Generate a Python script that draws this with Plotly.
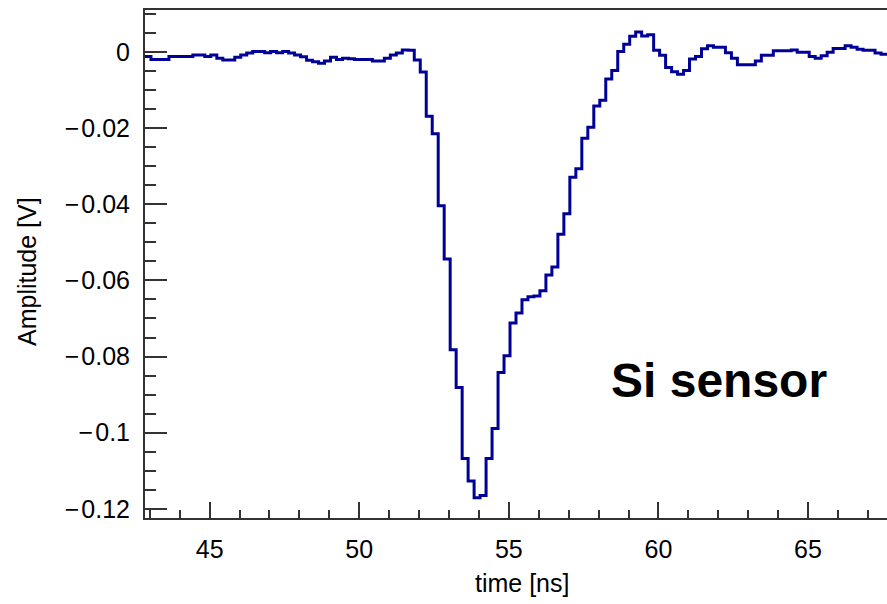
import plotly.graph_objects as go

# ---- data ----
t_start = 42.84      # first bin lower edge [ns]
bin_width = 0.2      # [ns]
amplitude = [
    -0.0012, -0.0020, -0.0020, -0.0020, -0.0012, -0.0012, -0.0012, -0.0012, -0.0008, -0.0008,
    -0.0012, -0.0008, -0.0017, -0.0021, -0.0021, -0.0014, -0.0008, -0.0003, 0.0001, 0.0001,
    -0.0002, 0.0001, -0.0002, 0.0001, -0.0003, -0.0008, -0.0013, -0.0022, -0.0026, -0.0030,
    -0.0024, -0.0014, -0.0020, -0.0017, -0.0018, -0.0020, -0.0020, -0.0020, -0.0024, -0.0024,
    -0.0017, -0.0008, -0.0003, 0.0005, 0.0004, -0.0021, -0.0053, -0.0169, -0.0215, -0.0404,
    -0.0544, -0.0782, -0.0881, -0.1068, -0.1127, -0.1171, -0.1165, -0.1068, -0.0989, -0.0842,
    -0.0798, -0.0712, -0.0686, -0.0651, -0.0643, -0.0641, -0.0627, -0.0586, -0.0565, -0.0479,
    -0.0425, -0.0329, -0.0307, -0.0227, -0.0198, -0.0142, -0.0127, -0.0071, -0.0049, 0.0001,
    0.0020, 0.0041, 0.0052, 0.0042, 0.0045, 0.0004, -0.0009, -0.0041, -0.0052, -0.0059,
    -0.0049, -0.0019, -0.0012, 0.0008, 0.0016, 0.0012, 0.0012, -0.0002, -0.0017, -0.0034,
    -0.0034, -0.0034, -0.0024, -0.0009, -0.0009, 0.0003, 0.0003, 0.0003, 0.0005, -0.0001,
    -0.0001, -0.0012, -0.0017, -0.0010, -0.0001, 0.0009, 0.0009, 0.0016, 0.0012, 0.0007,
    0.0004, 0.0004, -0.0003, -0.0006,
]
x_tickvals = [45, 50, 55, 60, 65]
x_ticktext = ["45", "50", "55", "60", "65"]
y_tickvals = [0, -0.02, -0.04, -0.06, -0.08, -0.1, -0.12]
y_ticktext = ["0", "\u2212\u200a0.02", "\u2212\u200a0.04", "\u2212\u200a0.06",
              "\u2212\u200a0.08", "\u2212\u200a0.1", "\u2212\u200a0.12"]

edges = [t_start + bin_width * i for i in range(len(amplitude) + 1)]
yvals = amplitude + [amplitude[-1]]

FONT = "Liberation Sans, Arial, sans-serif"
AXC = "#333333"
FS = 25

fig = go.Figure()
fig.add_trace(go.Scatter(
    x=edges, y=yvals, mode="lines", line_shape="hv",
    line=dict(color="#000099", width=3), showlegend=False, hoverinfo="skip",
))

fig.update_layout(
    width=887, height=604,
    margin=dict(l=145, r=0, t=10, b=86),
    paper_bgcolor="white", plot_bgcolor="white",
    font=dict(family=FONT, size=FS, color="black"),
    xaxis=dict(
        range=[42.84, 67.64], showgrid=False, zeroline=False,
        showline=True, linecolor=AXC, linewidth=2, mirror=True,
        ticks="inside", ticklen=16, tickwidth=1.5, tickcolor=AXC,
        tickvals=x_tickvals, ticktext=x_ticktext,
        ticklabelstandoff=8,
        minor=dict(ticks="inside", ticklen=8, tickwidth=1.5, tickcolor=AXC, dtick=1, tick0=0),
    ),
    yaxis=dict(
        range=[-0.1224, 0.0110], showgrid=False, zeroline=False,
        showline=True, linecolor=AXC, linewidth=2, mirror=False,
        ticks="inside", ticklen=22, tickwidth=1.5, tickcolor=AXC,
        tickvals=y_tickvals, ticktext=y_ticktext,
        ticklabelstandoff=8,
        minor=dict(ticks="inside", ticklen=11, tickwidth=1.5, tickcolor=AXC, dtick=0.005, tick0=0),
    ),
    annotations=[
        dict(text="time [ns]", xref="paper", yref="paper",
             x=(522 - 145) / 742, y=(518 - 583) / 508, showarrow=False,
             font=dict(family=FONT, size=FS, color="black"), xanchor="center", yanchor="middle"),
        dict(text="Amplitude [V]", xref="paper", yref="paper",
             x=(27 - 145) / 742, y=(518 - 272) / 508, showarrow=False, textangle=-90,
             font=dict(family=FONT, size=FS, color="black"), xanchor="center", yanchor="middle"),
        dict(text="<b>Si sensor</b>", xref="paper", yref="paper",
             x=(719 - 145) / 742, y=(518 - 380) / 508, showarrow=False,
             font=dict(family=FONT, size=48, color="black"), xanchor="center", yanchor="middle"),
    ],
)

fig.write_html("out.html")
